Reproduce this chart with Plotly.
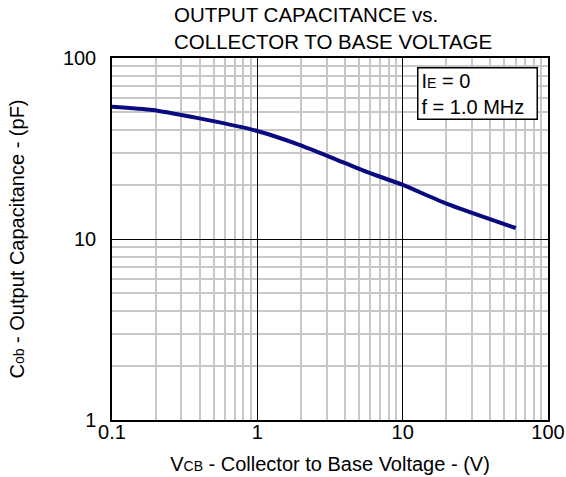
import plotly.graph_objects as go

# Data
vcb = [0.1, 0.19, 0.40, 0.52, 1.0, 1.97, 3.33, 5.65, 10.0, 20.0, 60.0]
cob = [53.8, 51.6, 46.4, 44.5, 39.5, 33.0, 27.9, 23.5, 19.9, 15.7, 11.5]

x_ticks = [0.1, 1, 10, 100]
x_ticktext = ["0.1", "1", "10", "100"]
y_ticks = [1, 10, 100]
y_ticktext = ["1", "10", "100"]

FONT = "Liberation Sans, Arial, sans-serif"

minor_x = [m * d for d in [0.1, 1, 10] for m in range(2, 10)]
minor_y = [m * d for d in [1, 10] for m in range(2, 10)]

fig = go.Figure()
fig.add_trace(go.Scatter(
    x=vcb, y=cob, mode="lines",
    line=dict(color="#0a0a80", width=4, shape="spline", smoothing=0.6),
    showlegend=False, hoverinfo="skip",
))

fig.update_xaxes(
    type="log", range=[-1, 2], automargin=False,
    tickvals=x_ticks, ticktext=x_ticktext,
    showgrid=True, gridcolor="#000000", gridwidth=1,
    minor=dict(tickvals=minor_x, showgrid=True, gridcolor="#c8c8c8", gridwidth=1.5, ticks=""),
    showline=True, linecolor="black", linewidth=1.5, mirror=True,
    ticks="", zeroline=False,
    ticklabelstandoff=-7,
    tickfont=dict(family=FONT, size=20, color="black"),
    title=dict(text="V<span style='font-size:14px'>CB</span> - Collector to Base Voltage - (V)",
               font=dict(family=FONT, size=20, color="black"), standoff=15),
)
fig.update_yaxes(
    type="log", range=[0, 2], automargin=False,
    tickvals=y_ticks, ticktext=y_ticktext,
    showgrid=True, gridcolor="#000000", gridwidth=1,
    minor=dict(tickvals=minor_y, showgrid=True, gridcolor="#c8c8c8", gridwidth=1.5, ticks=""),
    showline=True, linecolor="black", linewidth=1.5, mirror=True,
    ticks="", zeroline=False,
    ticklabelstandoff=10,
    tickfont=dict(family=FONT, size=20, color="black"),
    title=dict(text="C<span style='font-size:14px'>ob</span> - Output Capacitance - (pF)",
               font=dict(family=FONT, size=20, color="black"), standoff=33),
)

fig.add_annotation(
    xref="paper", yref="paper", x=0.138, y=1.084,
    xanchor="left", yanchor="middle", align="left", showarrow=False,
    text="OUTPUT CAPACITANCE vs.<br>COLLECTOR TO BASE VOLTAGE",
    font=dict(family=FONT, size=20.5, color="black"),
)
fig.add_annotation(
    xref="paper", yref="paper", x=0.70, y=0.975,
    xanchor="left", yanchor="top", align="left", valign="middle", showarrow=False,
    text="I<span style='font-size:14px'>E</span> = 0<br>f = 1.0 MHz",
    font=dict(family=FONT, size=20, color="black"),
    bgcolor="white", bordercolor="black", borderwidth=1.5, borderpad=3,
    width=112, height=44,
)

fig.update_layout(
    width=566, height=477,
    margin=dict(l=112, r=18, t=58, b=57),
    paper_bgcolor="white", plot_bgcolor="white",
    font=dict(family=FONT, size=20, color="black"),
)

fig.write_html("out.html", config={"displayModeBar": False},
               post_script="document.body.style.margin='0';document.body.style.overflow='hidden';")
